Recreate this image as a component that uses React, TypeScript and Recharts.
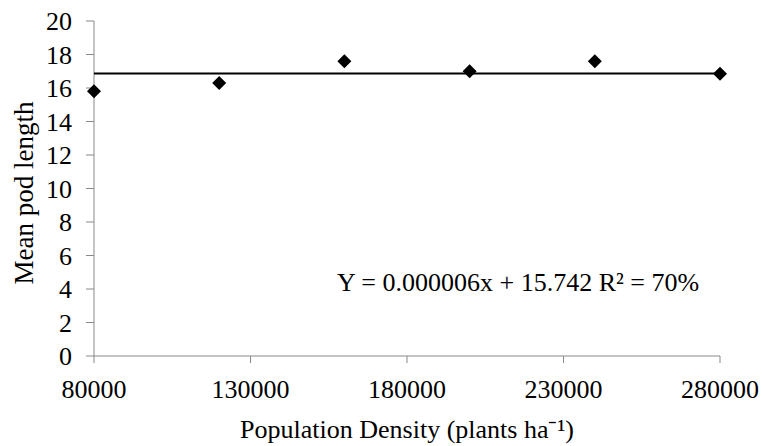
import React from 'react';
import { ScatterChart, Scatter, XAxis, YAxis, Label } from 'recharts';

const densities = [80000, 120000, 160000, 200000, 240000, 280000];
const podLength = [15.8, 16.3, 17.6, 17.0, 17.6, 16.85];
const trendX = [80000, 280000];
const trendY = [16.87, 16.87];
const xTicks = [80000, 130000, 180000, 230000, 280000];
const yTicks = [0, 2, 4, 6, 8, 10, 12, 14, 16, 18, 20];
const equationText = 'Y = 0.000006x + 15.742 R² = 70%';
const xTitle = 'Population Density (plants ha⁻¹)';
const yTitle = 'Mean pod length';

const points = densities.map((x, i) => ({ x, y: podLength[i] }));
const trend = trendX.map((x, i) => ({ x, y: trendY[i] }));

const FONT = '"Liberation Serif", "Times New Roman", serif';
const FS = 26;
const AXIS = '#898989';

const Diamond = (props: any) => {
  const { cx, cy } = props;
  const h = 7;
  return (
    <path
      d={`M${cx},${cy - h} L${cx + h},${cy} L${cx},${cy + h} L${cx - h},${cy} Z`}
      fill="#000"
    />
  );
};

const NoShape = () => null;

const XTick = (props: any) => {
  const { x, y, payload } = props;
  return (
    <text x={x} y={y} dy="0.71em" textAnchor="middle" fontFamily={FONT} fontSize={FS} fill="#000" style={{ fontFamily: FONT }}>
      {payload.value}
    </text>
  );
};

const YTick = (props: any) => {
  const { x, y, payload } = props;
  return (
    <text x={x} y={y} dy="0.355em" textAnchor="end" fontFamily={FONT} fontSize={FS} fill="#000" style={{ fontFamily: FONT }}>
      {payload.value}
    </text>
  );
};

export default function App() {
  return (
    <div style={{ position: 'absolute', left: 0, top: 0, width: 762, height: 446, background: '#fff' }}>
      <ScatterChart width={762} height={446} margin={{ top: 21, right: 42, left: 0, bottom: 0 }}>
        <XAxis
          type="number"
          dataKey="x"
          domain={[80000, 280000]}
          ticks={xTicks}
          interval={0}
          height={90}
          stroke={AXIS}
          tickSize={7}
          tickMargin={17}
          tick={<XTick />}
        >
          <Label
            content={() => (
              <text x={407} y={438} textAnchor="middle" fontSize={FS} fontFamily={FONT} fill="#000">
                {xTitle}
              </text>
            )}
          />
        </XAxis>
        <YAxis
          type="number"
          dataKey="y"
          domain={[0, 20]}
          ticks={yTicks}
          interval={0}
          width={94}
          stroke={AXIS}
          tickSize={8}
          tickMargin={14}
          tick={<YTick />}
        >
          <Label
            content={() => (
              <text
                x={24}
                y={193}
                transform="rotate(-90, 24, 193)"
                textAnchor="middle"
                dominantBaseline="central"
                fontSize={27}
                fontFamily={FONT}
                fill="#000"
              >
                {yTitle}
              </text>
            )}
          />
        </YAxis>
        <Scatter
          data={trend}
          line={{ stroke: '#000', strokeWidth: 2 }}
          shape={NoShape}
          isAnimationActive={false}
        />
        <Scatter data={points} shape={Diamond} isAnimationActive={false} />
      </ScatterChart>
      <div
        style={{
          position: 'absolute',
          left: 337,
          top: 270,
          fontFamily: FONT,
          fontSize: FS,
          color: '#000',
          whiteSpace: 'nowrap',
          lineHeight: `${FS}px`,
        }}
      >
        {equationText}
      </div>
    </div>
  );
}
